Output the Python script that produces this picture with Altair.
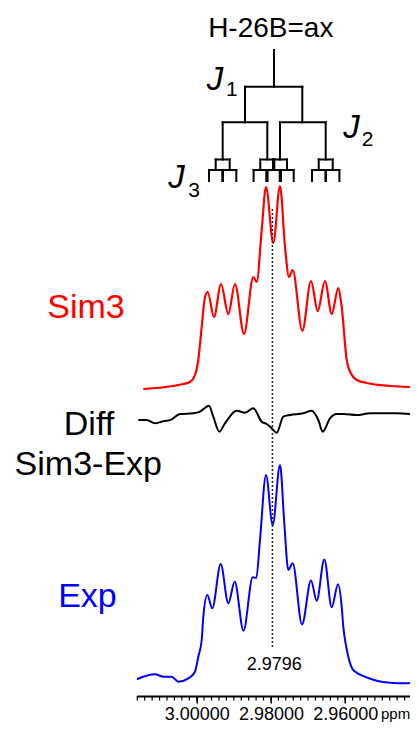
import altair as alt
import pandas as pd

FONT = "Liberation Sans"

# ---------------- data ----------------
# Simulated spectrum (Sim3): chemical shift (ppm) and intensity above its baseline
sim_ppm = [3.01439, 3.00630, 3.00361, 3.00180, 3.00046, 2.99957, 2.99865, 2.99776,
           2.99704, 2.99534, 2.99345, 2.99149, 2.98968, 2.98726, 2.98475, 2.98384,
           2.98249, 2.98133, 2.97936, 2.97756, 2.97621, 2.97513, 2.97414, 2.97155,
           2.96921, 2.96740, 2.96544, 2.96363, 2.96185, 2.96094, 2.95959, 2.95851,
           2.95690, 2.95420, 2.94793, 2.94254]
sim_int = [-1, 2, 4, 6, 13, 28, 61, 91, 96, 71, 104, 74, 104, 54, 111, 106, 158, 201,
           145, 202, 141, 111, 118, 57, 107, 77, 107, 74, 100, 81, 28, 15, 8, 5, 2, 1]

# Experimental spectrum (Exp)
exp_ppm = [3.01616, 3.01123, 3.00900, 3.00673, 3.00496, 3.00226, 3.00046, 2.99957,
           2.99865, 2.99822, 2.99714, 2.99580, 2.99353, 2.99149, 2.98976, 2.98739,
           2.98491, 2.98394, 2.98295, 2.98133, 2.97953, 2.97756, 2.97640, 2.97532,
           2.97414, 2.97163, 2.96921, 2.96767, 2.96562, 2.96363, 2.96193, 2.96094,
           2.96051, 2.95964, 2.95916, 2.95781, 2.95420, 2.95151, 2.94793, 2.94343,
           2.94254]
exp_int = [3.7, 8.7, 6.3, 6.3, 1.3, 4.7, 11.3, 26.3, 43, 66.3, 88, 74.7, 119, 79.7,
           101.3, 52.3, 105.7, 105, 143, 208, 158, 218, 159.7, 113, 119.7, 58.5, 102.5,
           82.3, 123.5, 75.7, 98.7, 76.3, 56.3, 34.7, 26.3, 13, 5.7, 2.3, 0.3, -0.3, 0.0]

# Difference trace (Sim3-Exp)
diff_ppm = [3.01573, 3.01347, 3.01123, 3.00943, 3.00673, 3.00450, 3.00092, 2.99911,
            2.99669, 2.99553, 2.99391, 2.99238, 2.98922, 2.98699, 2.98475, 2.98249,
            2.98114, 2.97980, 2.97845, 2.97667, 2.97487, 2.97128, 2.96902, 2.96724,
            2.96606, 2.96409, 2.96228, 2.96051, 2.95690, 2.95332, 2.94612, 2.94254]
diff_int = [-6, -6, -9.3, -7.7, -5.3, 0, 0.7, 2.3, 8.3, -2.7, -17.7, -9.3, 3.3, 1.3,
            5.7, -7.7, -10, -14.3, -18.7, -2.7, -1, 0.7, 3.3, -6, -17.7, -4.3, 0, 0,
            -1, 0.7, 0.7, 0]

# Splitting tree: node positions (ppm) per level, children of node i are 2i, 2i+1
tree_nodes = [
    [2.97918],
    [2.98699, 2.97155],
    [2.99300, 2.98098, 2.97756, 2.96525],
    [2.99488, 2.99111, 2.98287, 2.97909, 2.97944, 2.97567, 2.96713, 2.96336],
    [2.99669, 2.99310, 2.99291, 2.98933, 2.98467, 2.98106, 2.98090, 2.97729,
     2.98125, 2.97764, 2.97748, 2.97387, 2.96894, 2.96533, 2.96517, 2.96156],
]
tree_levels = [646, 609.3, 573.7, 536.5, 526, 515]

marker_ppm = 2.9796
marker_label = "2.9796"

major_ticks = [3.00, 2.98, 2.96]
minor_ticks = [round(3.016 - 0.002 * k, 3) for k in range(37)]

side_labels = ["Sim3", "Diff", "Sim3-Exp", "Exp"]
side_ppm = [3.02982, 3.02901, 3.02920, 3.02942]
side_y = [378, 261, 221, 89]
side_colors = ["#ff0000", "#000000", "#000000", "#0000ff"]

j_labels = ["J", "J", "J"]
j_ppm = [2.99731, 2.96051, 3.00765]
j_y = [606, 557.7, 507.7]
j_subs = ["1", "2", "3"]
j_sub_ppm = [2.99211, 2.95555, 3.00226]
j_sub_y = [600, 550, 499.5]

title_text = "H-26B=ax"
unit_text = "ppm"

# ---------------- layout ----------------
W, H = 273.3, 688
X_LEFT, X_RIGHT = 3.01616, 2.94254
SIM_OFFSET, DIFF_OFFSET, EXP_OFFSET = 308, 282, 13

xscale = alt.Scale(domain=[X_LEFT, X_RIGHT], nice=False, zero=False)
yscale = alt.Scale(domain=[0, H], nice=False, zero=False)
xaxis = alt.Axis(values=major_ticks, format=".5f", tickSize=7, tickWidth=1.5,
                 domainWidth=1.8, domainColor="black", tickColor="black",
                 labelColor="black", labelFontSize=18, labelFont=FONT,
                 labelPadding=2, grid=False, labelOverlap=False, labelFlush=False,
                 title=None)


def ex(f):
    return alt.X(f + ":Q", scale=xscale, axis=xaxis, title=None)


def ey(f):
    return alt.Y(f + ":Q", scale=yscale, axis=None, title=None)


def spectrum(ppm, inten, offset, color, width):
    df = pd.DataFrame({"ppm": ppm, "y": [v + offset for v in inten],
                       "i": list(range(len(ppm)))})
    return alt.Chart(df).mark_line(color=color, strokeWidth=width,
                                   interpolate="monotone", clip=True).encode(
        x=ex("ppm"), y=ey("y"), order="i:Q")


# tree segments
rows = []
for k, level in enumerate(tree_nodes):
    for j, xv in enumerate(level):
        rows.append(dict(ppm=xv, ppm2=xv, y=tree_levels[k], y2=tree_levels[k + 1]))
        if k + 1 < len(tree_nodes):
            a, b = tree_nodes[k + 1][2 * j], tree_nodes[k + 1][2 * j + 1]
            rows.append(dict(ppm=a, ppm2=b, y=tree_levels[k + 1], y2=tree_levels[k + 1]))
tree = alt.Chart(pd.DataFrame(rows)).mark_rule(
    color="black", strokeWidth=2, strokeCap="square").encode(
    x=ex("ppm"), x2="ppm2:Q", y=ey("y"), y2="y2:Q")

minor = alt.Chart(pd.DataFrame({"ppm": minor_ticks})).mark_rule(
    color="black", strokeWidth=1.2).encode(
    x=ex("ppm"), y=alt.value(H), y2=alt.value(H + 4.5))

dotted = alt.Chart(pd.DataFrame({"ppm": [marker_ppm], "y": [49], "y2": [488]})).mark_rule(
    color="#222222", strokeWidth=1.5, strokeDash=[2, 2]).encode(
    x=ex("ppm"), y=ey("y"), y2="y2:Q")

marker_text = alt.Chart(pd.DataFrame({"ppm": [2.97912], "y": [26], "t": [marker_label]})).mark_text(
    font=FONT, fontSize=18, color="black", align="center", baseline="alphabetic").encode(
    x=ex("ppm"), y=ey("y"), text="t:N")

unit = alt.Chart(pd.DataFrame({"ppm": [2.95035], "y": [-23], "t": [unit_text]})).mark_text(
    font=FONT, fontSize=15, color="black", align="left", baseline="alphabetic").encode(
    x=ex("ppm"), y=ey("y"), text="t:N")

side = alt.Chart(pd.DataFrame({"ppm": side_ppm, "y": side_y, "t": side_labels,
                               "c": side_colors})).mark_text(
    font=FONT, fontSize=34, align="center", baseline="alphabetic").encode(
    x=ex("ppm"), y=ey("y"), text="t:N", color=alt.Color("c:N", scale=None))

title = alt.Chart(pd.DataFrame({"ppm": [2.98004], "y": [659.3], "t": [title_text]})).mark_text(
    font=FONT, fontSize=28, color="black", align="center", baseline="alphabetic").encode(
    x=ex("ppm"), y=ey("y"), text="t:N")

jtext = alt.Chart(pd.DataFrame({"ppm": j_ppm, "y": j_y, "t": j_labels})).mark_text(
    font=FONT, fontSize=33, fontStyle="italic", color="black", align="left",
    baseline="alphabetic").encode(x=ex("ppm"), y=ey("y"), text="t:N")

jsub = alt.Chart(pd.DataFrame({"ppm": j_sub_ppm, "y": j_sub_y, "t": j_subs})).mark_text(
    font=FONT, fontSize=21, color="black", align="left",
    baseline="alphabetic").encode(x=ex("ppm"), y=ey("y"), text="t:N")

chart = alt.layer(
    minor,
    tree,
    spectrum(sim_ppm, sim_int, SIM_OFFSET, "#ff0000", 2.2),
    spectrum(diff_ppm, diff_int, DIFF_OFFSET, "#000000", 2.0),
    spectrum(exp_ppm, exp_int, EXP_OFFSET, "#0000ff", 2.0),
    dotted,
    marker_text,
    unit,
    side,
    title,
    jtext,
    jsub,
).properties(
    width=W, height=H,
    autosize=alt.AutoSizeParams(type="none"),
    padding={"left": 128.7, "right": 0, "top": 0, "bottom": 26},
    background="white",
).configure_view(stroke=None)

chart.save("out.html", embed_options={"renderer": "svg", "actions": False})
